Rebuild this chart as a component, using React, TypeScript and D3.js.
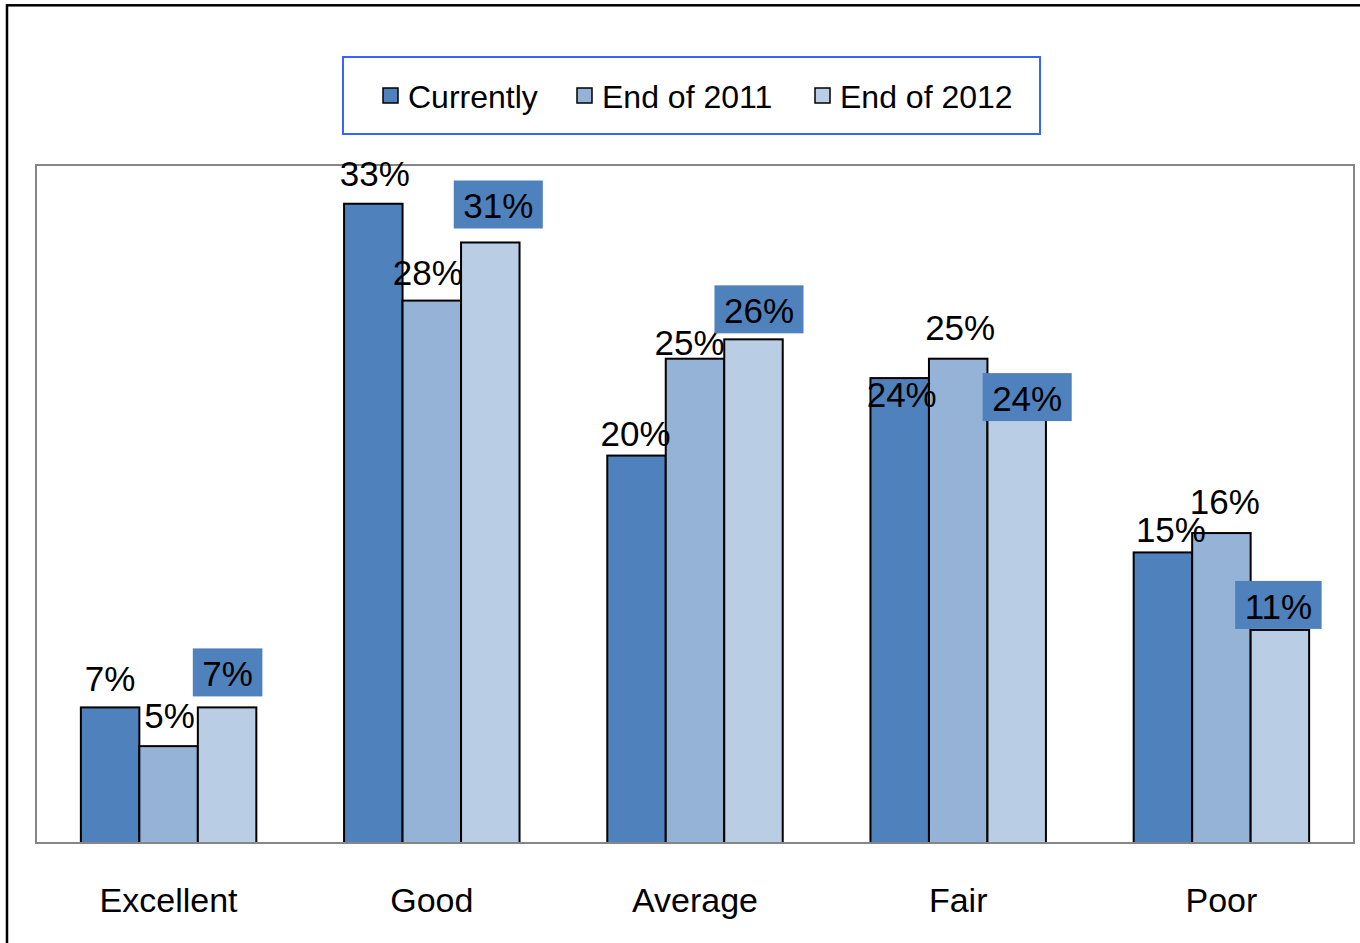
import React from "react";
import * as d3 from "d3";

const categories = ["Excellent", "Good", "Average", "Fair", "Poor"];
const seriesNames = ["Currently", "End of 2011", "End of 2012"];
const currently = [7, 33, 20, 24, 15];
const end2011 = [5, 28, 25, 25, 16];
const end2012 = [7, 31, 26, 24, 11];

// layout-only nudges for data labels: [dx from bar centre, baseline offset from bar top]
const nudgeCurrently = [[0, -16], [1.5, -18], [-1, -10], [2, 29], [8, -10]];
const nudge2011 = [[1, -18], [-4, -16], [-5.5, -4], [2, -19], [3.5, -19]];
const nudge2012 = [[0.5, -21], [8, -24], [5.5, -16], [10.5, 33], [-1.5, -11]];

const colors = ["#4F81BD", "#95B3D7", "#B9CDE5"];
const FONT = "'Liberation Sans', Arial, Helvetica, sans-serif";

const W = 1360;
const H = 943;
const plot = { left: 36, right: 1354, top: 165, bottom: 843 };

function measure(text: string, size: number): number {
  try {
    const c = document.createElement("canvas").getContext("2d");
    if (c) {
      c.font = `${size}px ${FONT}`;
      return c.measureText(text).width;
    }
  } catch (e) {}
  return text.length * size * 0.56;
}

export default function App() {
  const series = [currently, end2011, end2012];
  const nudges = [nudgeCurrently, nudge2011, nudge2012];

  const x0 = d3.scaleBand<string>().domain(categories).range([37, 1353]).padding(0);
  const x1 = d3
    .scaleBand<string>()
    .domain(seriesNames)
    .range([0, x0.bandwidth()])
    .paddingInner(0)
    .paddingOuter(0.75);
  const y = d3.scaleLinear().domain([0, 35]).range([plot.bottom, plot.top]);

  const legendX = [383, 577, 815];
  const labelSize = 35;

  return (
    <svg
      width={W}
      height={H}
      style={{ position: "absolute", left: 0, top: 0, background: "#fff" }}
      fontFamily={FONT}
    >
      <rect x={0} y={0} width={W} height={H} fill="#fff" />
      {/* outer frame */}
      <rect x={7} y={5.3} width={W + 20} height={H + 20} fill="none" stroke="#000" strokeWidth={2.5} />

      {/* plot area */}
      <rect
        x={plot.left}
        y={plot.top}
        width={plot.right - plot.left}
        height={plot.bottom - plot.top}
        fill="#fff"
        stroke="#868686"
        strokeWidth={2}
      />

      {/* legend */}
      <rect x={343} y={57} width={697} height={77} fill="#fff" stroke="#3366FF" strokeWidth={2} />
      {seriesNames.map((s, i) => (
        <g key={s}>
          <rect x={legendX[i]} y={88} width={15} height={15} fill={colors[i]} stroke="#000" strokeWidth={1.5} />
          <text x={legendX[i] + 25} y={108} fontSize={32} fill="#000">
            {s}
          </text>
        </g>
      ))}

      {/* bars */}
      {categories.map((c, ci) => (
        <g key={c} transform={`translate(${x0(c)},0)`}>
          {seriesNames.map((s, si) => {
            const v = series[si][ci];
            return (
              <rect
                key={s}
                x={x1(s)}
                y={y(v)}
                width={x1.bandwidth()}
                height={y(0) - y(v)}
                fill={colors[si]}
                stroke="#000"
                strokeWidth={2}
              />
            );
          })}
        </g>
      ))}

      {/* axis line */}
      <line x1={plot.left} x2={plot.right} y1={plot.bottom} y2={plot.bottom} stroke="#868686" strokeWidth={2} />

      {/* data labels */}
      {categories.map((c, ci) =>
        seriesNames.map((s, si) => {
          const v = series[si][ci];
          const label = `${v}%`;
          const cx = (x0(c) as number) + (x1(s) as number) + x1.bandwidth() / 2 + nudges[si][ci][0];
          const by = y(v) + nudges[si][ci][1];
          const tw = measure(label, labelSize);
          return (
            <g key={`${c}-${s}`}>
              {si === 2 && (
                <rect x={cx - tw / 2 - 9.5} y={by - 38} width={tw + 19} height={48} fill="#4F81BD" />
              )}
              <text x={cx} y={by} textAnchor="middle" fontSize={labelSize} fill="#000">
                {label}
              </text>
            </g>
          );
        })
      )}

      {/* category labels */}
      {categories.map((c) => (
        <text
          key={c}
          x={(x0(c) as number) + x0.bandwidth() / 2}
          y={912}
          textAnchor="middle"
          fontSize={34}
          fill="#000"
        >
          {c}
        </text>
      ))}
    </svg>
  );
}
